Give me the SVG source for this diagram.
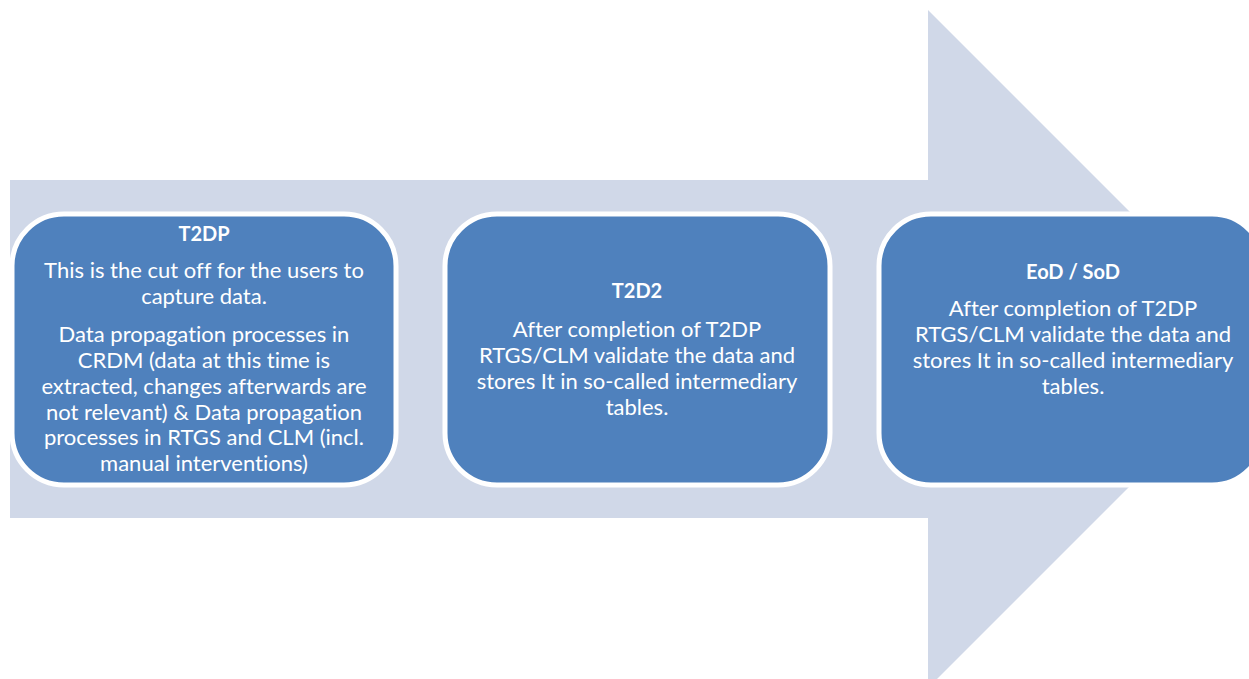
<svg xmlns="http://www.w3.org/2000/svg" width="1249" height="679" viewBox="0 0 1249 679">
<style>
.box{fill:#4F81BD;stroke:#FFFFFF;stroke-width:5}
.t{font-family:Lato,"Open Sans","Liberation Sans",sans-serif;font-size:22px;fill:#FFFFFF;text-anchor:middle;font-variant-ligatures:none}
.b{font-weight:bold;font-size:20px}
</style>
<rect width="1249" height="679" fill="#FFFFFF"/>
<g id="arrow">
<polygon points="10,180 928,180 928,10 1267,349 928,688 928,518 10,518" fill="#D0D8E8"/>
</g>
<g id="connectors"></g>
<g id="node-t2dp">
<rect class="box" x="12" y="214" width="384" height="271" rx="52"/>
<text class="t b" x="204" y="241">T2DP</text>
<text class="t" x="204" y="278">This is the cut off for the users to</text>
<text class="t" x="204" y="304">capture data.</text>
<text class="t" x="204" y="342">Data propagation processes in</text>
<text class="t" x="204" y="368">CRDM (data at this time is</text>
<text class="t" x="204" y="394">extracted, changes afterwards are</text>
<text class="t" x="204" y="420">not relevant) &amp; Data propagation</text>
<text class="t" x="204" y="445">processes in RTGS and CLM (incl.</text>
<text class="t" x="204" y="471">manual interventions)</text>
</g>
<g id="node-t2d2">
<rect class="box" x="445" y="214" width="385" height="271" rx="52"/>
<text class="t b" x="637" y="298">T2D2</text>
<text class="t" x="637" y="337">After completion of T2DP</text>
<text class="t" x="637" y="363">RTGS/CLM validate the data and</text>
<text class="t" x="637" y="389">stores It in so-called intermediary</text>
<text class="t" x="637" y="415">tables.</text>
</g>
<g id="node-eod">
<rect class="box" x="879" y="214" width="385" height="271" rx="52"/>
<text class="t b" x="1073" y="279">EoD / SoD</text>
<text class="t" x="1073" y="316">After completion of T2DP</text>
<text class="t" x="1073" y="342">RTGS/CLM validate the data and</text>
<text class="t" x="1073" y="368">stores It in so-called intermediary</text>
<text class="t" x="1073" y="394">tables.</text>
</g>
</svg>
